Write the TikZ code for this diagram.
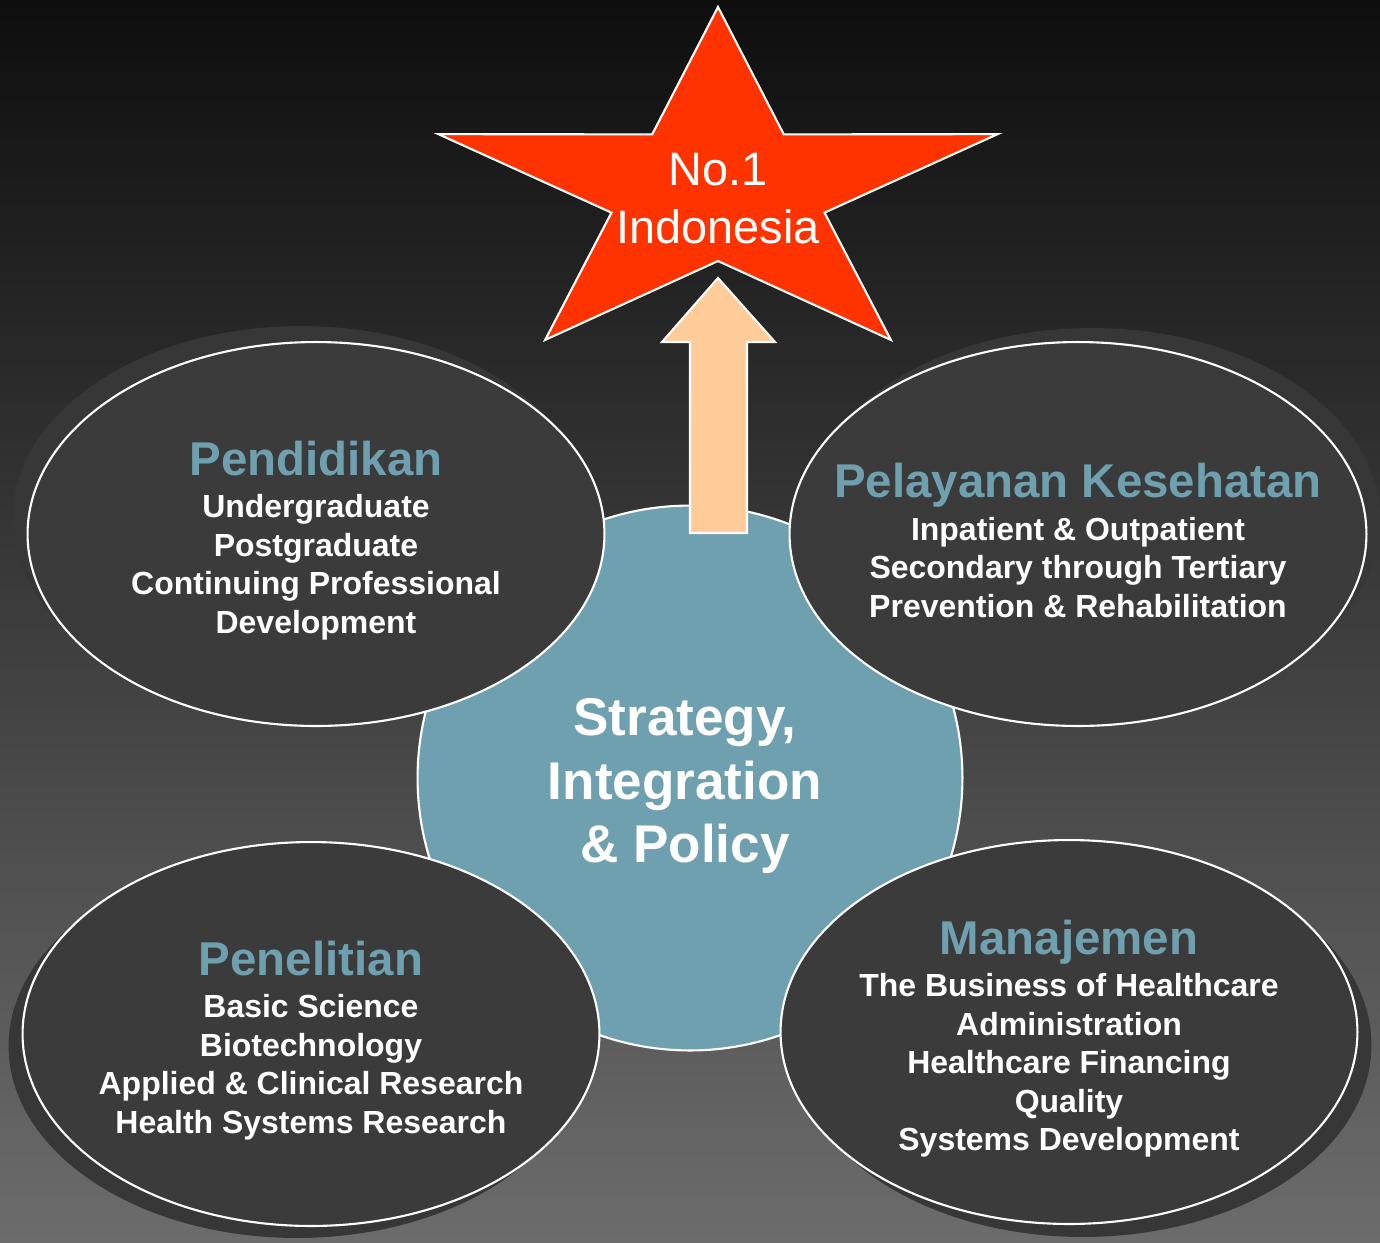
\documentclass[tikz,border=0pt]{standalone}
\usepackage{fontspec}
\setmainfont{Liberation Sans}
\usepackage{tikz}
\usetikzlibrary{shapes.geometric,shadows}
\definecolor{bgtop}{HTML}{0E0E0E}
\definecolor{bgbottom}{HTML}{6C6C6C}
\definecolor{discgrey}{HTML}{3B3B3B}
\definecolor{discside}{HTML}{373737}
\definecolor{hubteal}{HTML}{6FA0B0}
\definecolor{starred}{HTML}{FF3300}
\definecolor{peach}{HTML}{FFCC99}
\newcommand{\headfont}{\fontsize{27}{32}\selectfont\bfseries\color{hubteal}}
\newcommand{\bodyfont}{\fontsize{18.2}{21.9}\selectfont\bfseries}
\tikzset{
  pillar/.style 2 args={ellipse, draw=white, line width=1.2pt, fill=discgrey,
    minimum width=11.54cm, minimum height=7.68cm, inner sep=0pt,
    general shadow={fill=discside, shadow xshift=#1, shadow yshift=#2}},
  fieldtext/.style={text=white, align=center, inner sep=0pt, font=\bodyfont},
  core/.style={circle, draw=white, line width=1.2pt, fill=hubteal,
    minimum size=10.9cm, inner sep=0pt},
  coretext/.style={text=white, align=center, inner sep=0pt,
    font=\fontsize{30.2}{36.1}\selectfont\bfseries},
  goalstar/.style={draw=white, line width=1.2pt, fill=starred, line join=miter},
  riser/.style={draw=white, line width=1.2pt, fill=peach}
}
\begin{document}
\begin{tikzpicture}[x=0.02cm,y=-0.02cm]
\shade[top color=bgtop,bottom color=bgbottom] (0,0) rectangle (1380,1242);
\useasboundingbox (0,0) rectangle (1380,1242);
% centre and arrow
\node[core] (hub) at (690,778) {};
\node[coretext] (hubtext) at ([xshift=-1mm,yshift=-1.6mm]hub.center) {Strategy,\\ Integration\\ \&~Policy};
\draw[riser] (690,533) -- (690,342) -- (662,342) -- (718,278) -- (775,342) -- (747,342) -- (747,533) -- cycle;
% star
\begin{scope}[shift={(718,191)}]
\draw[goalstar] (270:294 and 184) \foreach \a in {306,378,...,594} {-- (\a:112 and 70) -- ({\a+36}:294 and 184)} -- cycle;
\end{scope}
\node[align=center, text=white, font=\fontsize{26.7}{33}\selectfont] (goal) at (718,199) {No.1\\ Indonesia};
% four fields
\node[pillar={-0.3cm}{0.32cm}] (edu) at (316,534) {};
\node[fieldtext] (edutext) at ([yshift=-1.3mm]edu.center) {{\headfont Pendidikan}\\[2.3pt] Undergraduate\\ Postgraduate\\ Continuing Professional\\ Development};
\node[pillar={0.28cm}{0.28cm}] (care) at (1078,534) {};
\node[fieldtext] (caretext) at ([yshift=-1.3mm]care.center) {{\headfont Pelayanan Kesehatan}\\[2.3pt] Inpatient \& Outpatient\\ Secondary through Tertiary\\ Prevention \& Rehabilitation};
\node[pillar={-0.28cm}{-0.24cm}] (research) at (311,1034) {};
\node[fieldtext] (researchtext) at ([yshift=-1.3mm]research.center) {{\headfont Penelitian}\\[2.3pt] Basic Science\\ Biotechnology\\ Applied \& Clinical Research\\ Health Systems Research};
\node[pillar={0.28cm}{-0.26cm}] (manage) at (1069,1032) {};
\node[fieldtext] (managetext) at ([yshift=-1.3mm]manage.center) {{\headfont Manajemen}\\[2.3pt] The Business of Healthcare\\ Administration\\ Healthcare Financing\\ Quality\\ Systems Development};
\end{tikzpicture}
\end{document}
